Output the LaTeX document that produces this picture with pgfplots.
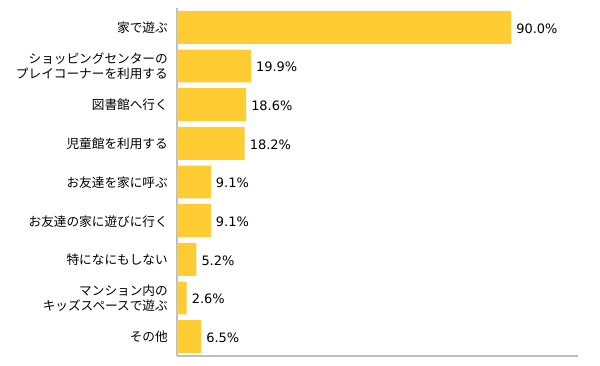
\documentclass[border=0pt]{standalone}
\usepackage{fontspec}
\setmainfont{Noto Sans CJK JP}
\newfontfamily\numfont{DejaVu Sans}
\usepackage{pgfplots}
\pgfplotsset{compat=1.18}
\definecolor{baryellow}{RGB}{255,204,51}
\definecolor{axisgray}{RGB}{190,190,190}
\begin{document}
\begin{tikzpicture}
\useasboundingbox (0,0) rectangle (600bp,366bp);
\begin{axis}[
  at={(177bp,10bp)}, anchor=south west,
  scale only axis, width=401bp, height=348bp,
  xmin=0, xmax=108, ymin=-0.5, ymax=8.5,
  xbar, bar width=0.853,
  axis x line*=bottom, axis y line*=left,
  axis line style={axisgray, line width=1.2bp, -},
  xtick=\empty, ytick={0,...,8}, major tick length=0pt,
  yticklabels={その他,{マンション内の\\キッズスペースで遊ぶ},特になにもしない,お友達の家に遊びに行く,お友達を家に呼ぶ,児童館を利用する,図書館へ行く,{ショッピングセンターの\\プレイコーナーを利用する},家で遊ぶ},
  yticklabel style={align=right, font=\fontsize{12.7}{15}\selectfont, inner sep=0pt, xshift=-9bp, text depth=0pt},
  nodes near coords={\pgfmathprintnumber[fixed,fixed zerofill,precision=1,assume math mode=true]{\pgfplotspointmeta}\%},
  nodes near coords style={font=\numfont\fontsize{13}{15}\selectfont, anchor=west, inner sep=0pt, xshift=5bp, yshift=-1bp, black},
]
\addplot[draw=none, fill=baryellow] coordinates {
(6.5,0) (2.6,1) (5.2,2) (9.1,3) (9.1,4) (18.2,5) (18.6,6) (19.9,7) (90.0,8)};
\end{axis}
\end{tikzpicture}
\end{document}
